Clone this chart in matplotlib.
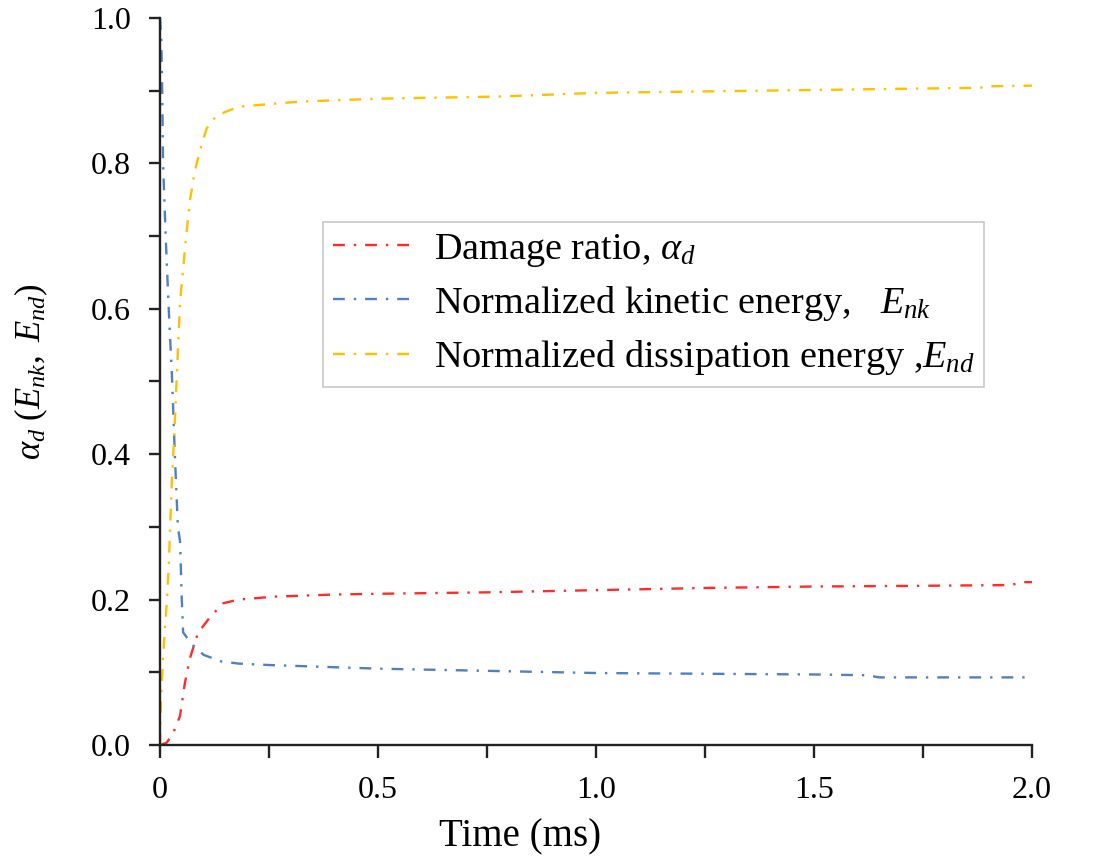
import matplotlib
matplotlib.use("Agg")
import matplotlib.pyplot as plt
from matplotlib.ticker import MultipleLocator, FixedLocator, FixedFormatter, FormatStrFormatter

plt.rcParams['font.family'] = ['Liberation Serif', 'DejaVu Serif']
plt.rcParams['mathtext.fontset'] = 'custom'
plt.rcParams['mathtext.rm'] = 'Liberation Serif'
plt.rcParams['mathtext.it'] = 'Liberation Serif:italic'

# ---- data ----
t_k = [0, 0.003, 0.005, 0.007, 0.013, 0.02, 0.028, 0.034, 0.041, 0.046, 0.05, 0.053,
       0.065, 0.076, 0.1, 0.14, 0.18, 0.25, 0.35, 0.5, 0.75, 1.0, 1.25, 1.5, 1.62, 1.65, 1.8, 2.0]
e_nk = [1.0, 0.97, 0.9, 0.8, 0.7, 0.6, 0.5, 0.4, 0.3, 0.28, 0.2, 0.155,
        0.145, 0.137, 0.124, 0.115, 0.112, 0.11, 0.108, 0.105, 0.102, 0.099, 0.098, 0.097, 0.096, 0.093, 0.093, 0.093]

t_d = [0, 0.002, 0.008, 0.016, 0.02, 0.027, 0.033, 0.038, 0.046, 0.05, 0.06, 0.069, 0.08,
       0.095, 0.107, 0.13, 0.18, 0.22, 0.32, 0.5, 0.78, 1.0, 1.25, 1.5, 1.75, 1.88, 1.9, 2.0]
e_nd = [0.0, 0.06, 0.13, 0.2, 0.245, 0.36, 0.43, 0.5, 0.61, 0.635, 0.7, 0.75, 0.79,
        0.825, 0.848, 0.866, 0.878, 0.88, 0.885, 0.889, 0.892, 0.897, 0.899, 0.901, 0.903, 0.904, 0.906, 0.907]

t_a = [0, 0.015, 0.03, 0.046, 0.057, 0.069, 0.087, 0.115, 0.145, 0.18, 0.26, 0.4, 0.5,
       0.75, 1.0, 1.25, 1.5, 1.75, 1.95, 1.98, 2.0]
alpha_d = [0, 0.003, 0.016, 0.04, 0.085, 0.12, 0.154, 0.176, 0.195, 0.2, 0.204, 0.207, 0.208,
           0.21, 0.213, 0.216, 0.218, 0.219, 0.22, 0.224, 0.224]

labels = ["Damage ratio, $\\alpha_d$",
          "Normalized kinetic energy,   $E_{nk}$",
          "Normalized dissipation energy ,$E_{nd}$"]
colors = ["#FF2B2B", "#4F81BD", "#FFC000"]
xticks = [0, 0.5, 1.0, 1.5, 2.0]
xticklabels = ["0", "0.5", "1.0", "1.5", "2.0"]

fig = plt.figure(figsize=(10.94, 8.61), dpi=100)
ax = fig.add_axes([160/1094, 1-745/861, (1032-160)/1094, (745-18)/861])

ls = (0, (5, 3.8, 1, 3.8))
lines = []
for tx, ys, c, lab in zip([t_a, t_k, t_d], [alpha_d, e_nk, e_nd], colors, labels):
    l, = ax.plot(tx, ys, color=c, lw=1.7, linestyle=ls, label=lab)
    lines.append(l)

ax.set_xlim(0, 2.0)
ax.set_ylim(0, 1.0)
ax.xaxis.set_major_locator(FixedLocator(xticks))
ax.xaxis.set_major_formatter(FixedFormatter(xticklabels))
ax.xaxis.set_minor_locator(MultipleLocator(0.25))
ax.yaxis.set_major_locator(MultipleLocator(0.2))
ax.yaxis.set_minor_locator(MultipleLocator(0.1))
ax.yaxis.set_major_formatter(FormatStrFormatter('%.1f'))

for s in ['top', 'right']:
    ax.spines[s].set_visible(False)
for s in ['left', 'bottom']:
    ax.spines[s].set_linewidth(1.7)
    ax.spines[s].set_color('#222222')
ax.tick_params(which='both', direction='out', width=1.7, color='#222222', labelsize=23)
ax.tick_params(axis='y', which='both', length=8, pad=13)
ax.tick_params(axis='x', which='both', length=9, pad=13)

ax.set_xlabel("Time (ms)", fontsize=28)
ax.xaxis.set_label_coords((520-160)/872, (745-818)/727)
ax.set_ylabel("$\\alpha_d\\ (E_{nk},\\ E_{nd})$", fontsize=25)
ax.yaxis.set_label_coords((50-160)/872, (745-372)/727)

leg = ax.legend(handles=lines, loc='upper left', bbox_to_anchor=(323/1094, 1-222/861),
                bbox_transform=fig.transFigure, fontsize=27.5, frameon=True, fancybox=False,
                handlelength=2.2, borderaxespad=0, borderpad=0.25, labelspacing=0.4,
                handletextpad=0.45)
leg.get_frame().set_edgecolor('#bbbbbb')
leg.get_frame().set_linewidth(1.2)

fig.savefig("out.png", dpi=100)
